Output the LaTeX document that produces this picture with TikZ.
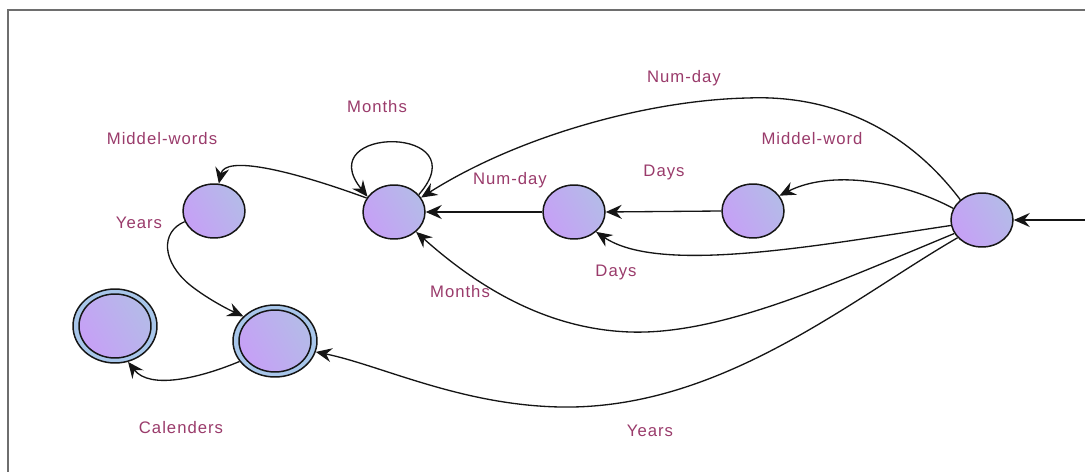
\documentclass[tikz,border=0pt]{standalone}
\usepackage{fontspec}
\setmainfont{Liberation Sans}[LetterSpace=6]
\usetikzlibrary{arrows.meta,shapes.geometric}
\definecolor{lbl}{HTML}{9A3B6B}
\definecolor{stA}{HTML}{C6A0F6}
\definecolor{stB}{HTML}{B4BBE8}
\definecolor{ring}{HTML}{A8C6EA}
\definecolor{edge}{HTML}{151515}
\definecolor{frame}{HTML}{6E6E6E}
\tikzset{
  state/.style={ellipse, draw=edge, line width=0.85pt, inner sep=0pt,
    minimum width=1.24cm, minimum height=1.08cm,
    left color=stA, right color=stB, shading angle=120},
  ringst/.style={ellipse, draw=edge, line width=0.85pt, inner sep=0pt,
    fill=ring, minimum width=1.68cm, minimum height=1.44cm},
  innerst/.style={ellipse, draw=edge, line width=0.85pt, inner sep=0pt,
    minimum width=1.44cm, minimum height=1.24cm,
    left color=stA, right color=stB, shading angle=120},
  arr/.style={draw=edge, line width=0.75pt,
    -{Stealth[length=3.2mm, width=2.8mm, inset=1.1mm]}},
  lab/.style={text=lbl, font=\fontsize{9.5}{11}\selectfont, inner sep=0pt}
}
\begin{document}
\begin{tikzpicture}[x=0.02cm, y=-0.02cm]
\useasboundingbox (0,0) rectangle (1085,472);
\fill[white] (0,0) rectangle (1085,472);
\draw[frame, line width=1.1pt] (8,472) -- (8,10) -- (1085,10);

% states
\node[state] (A) at (214,211) {};
\node[state] (B) at (394,212) {};
\node[state] (C) at (574,212) {};
\node[state] (D) at (753,211) {};
\node[state] (E) at (982,220) {};
\node[ringst] (F) at (275,341) {};
\node[innerst] (Fi) at (275,341) {};
\node[ringst, minimum height=1.48cm] (G) at (115,326) {};
\node[innerst, minimum height=1.28cm] (Gi) at (115,326) {};

% labels
\node[lab] (l1) at (684,78) {Num-day};
\node[lab] (l2) at (377,107) {Months};
\node[lab] (l3) at (162,139) {Middel-words};
\node[lab] (l4) at (812,139) {Middel-word};
\node[lab] (l5) at (664,172) {Days};
\node[lab] (l6) at (510,180) {Num-day};
\node[lab] (l7) at (139,223) {Years};
\node[lab] (l8) at (616,272) {Days};
\node[lab] (l9) at (460,292) {Months};
\node[lab] (l10) at (181,428) {Calenders};
\node[lab] (l11) at (650,431) {Years};

% connectors
\coordinate (in) at (1085,220);
\draw[arr] (in) -- (E.east);
\draw[arr] (D.west) -- (C.east);
\draw[arr] (C.west) -- (B.east);
\draw[arr] (E.158) .. controls (900,180) and (830,170) .. (D.30);
\draw[arr] (E.137) .. controls (900,120) and (820,95) .. (748,98)
   .. controls (650,100) and (520,135) .. (B.28);
\draw[arr] (E.190) .. controls (820,245) and (660,275) .. (C.318);
\draw[arr] (E.206) .. controls (830,285) and (720,335) .. (630,332)
   .. controls (540,329) and (470,280) .. (B.318);
\draw[arr] (E.216) .. controls (850,300) and (720,410) .. (560,407)
   .. controls (460,405) and (380,365) .. (F.345);
\draw[arr] (B.35) .. controls (480,125) and (310,125) .. (B.150);
\draw[arr] (B.153) .. controls (290,170) and (225,155) .. (A.80);
\draw[arr] (A.200) .. controls (160,232) and (162,262) .. (190,285)
   .. controls (205,297) and (225,308) .. (F.142);
\draw[arr] (F.210) .. controls (200,378) and (150,390) .. (G.290);
\end{tikzpicture}
\end{document}
